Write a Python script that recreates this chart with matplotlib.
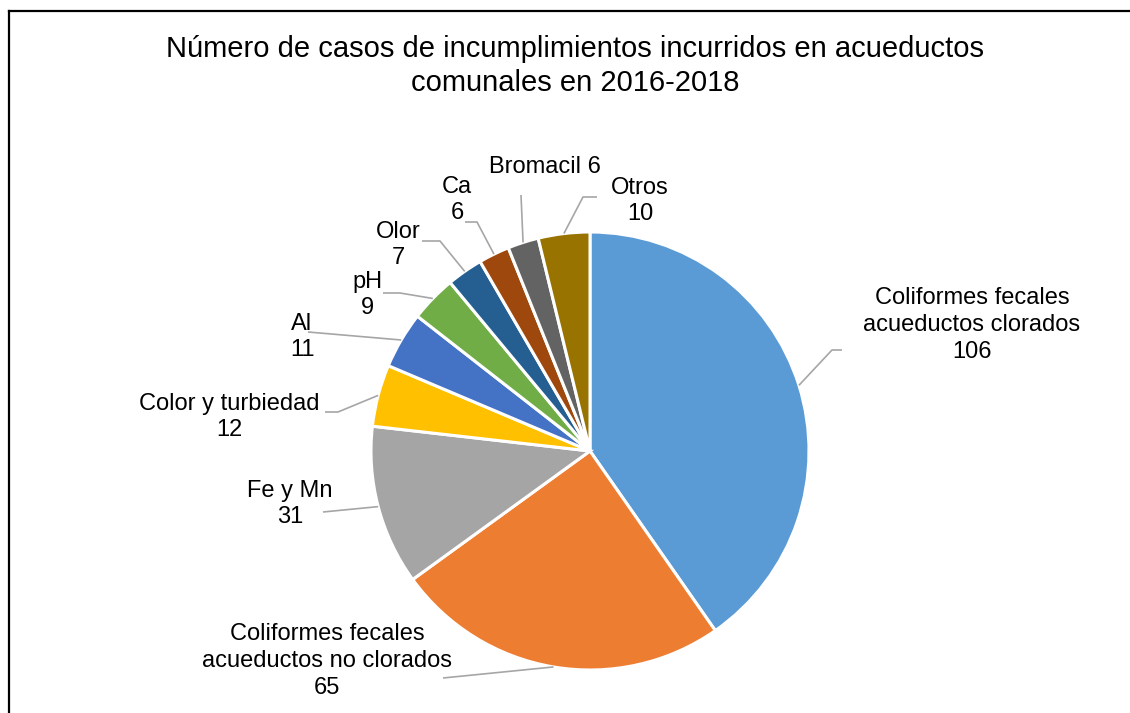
import matplotlib
matplotlib.use('Agg')
import matplotlib.pyplot as plt
import numpy as np

plt.rcParams['font.family'] = ['Liberation Sans', 'DejaVu Sans']

# Data
categories = ['Coliformes fecales\nacueductos clorados',
              'Coliformes fecales\nacueductos no clorados',
              'Fe y Mn', 'Color y turbiedad', 'Al', 'pH', 'Olor', 'Ca',
              'Bromacil', 'Otros']
values = [106, 65, 31, 12, 11, 9, 7, 6, 6, 10]
colors = ['#5B9BD5', '#ED7D31', '#A5A5A5', '#FFC000', '#4472C4',
          '#70AD47', '#255E91', '#9E480E', '#636363', '#997300']
title = 'Número de casos de incumplimientos incurridos en acueductos\ncomunales en 2016-2018'

# Layout (image pixel coords, y down)
W, H = 1130, 713
CX, CY, R = 590, 451, 219
label_sep = ['\n'] * 8 + [' ', '\n']
label_pos = [(972, 325), (327, 661), (290, 504), (229, 417), (302, 337),
             (367, 295), (398, 245), (457, 200), (545, 167), (640, 201)]
leader_pts = [[(832, 350), (842, 350)],
              [(443, 678)],
              [(323, 512)],
              [(338, 412), (325, 412)],
              [(308, 332)],
              [(400, 293), (383, 293)],
              [(440, 241), (422, 241)],
              [(477, 222), (465, 222)],
              [(521, 195)],
              [(583, 197), (597, 197)]]


def fy(y):
    return H - y


fig = plt.figure(figsize=(W / 100, H / 100), dpi=100)
ax = fig.add_axes([0, 0, 1, 1])

wedges, _ = ax.pie(values, colors=colors, startangle=90, counterclock=False,
                   center=(CX, fy(CY)), radius=R,
                   wedgeprops=dict(edgecolor='white', linewidth=2.2))
ax.set_xlim(0, W)
ax.set_ylim(0, H)
ax.set_aspect('equal')
ax.axis('off')

for w, cat, val, sep, (tx, ty), pts in zip(wedges, categories, values,
                                            label_sep, label_pos, leader_pts):
    mid = np.deg2rad((w.theta1 + w.theta2) / 2)
    ax_pt = (CX + R * np.cos(mid), fy(CY) + R * np.sin(mid))
    xs = [ax_pt[0]] + [p[0] for p in pts]
    ys = [ax_pt[1]] + [fy(p[1]) for p in pts]
    ax.plot(xs, ys, color='#A6A6A6', lw=1.2, solid_capstyle='butt')
    ax.text(tx, fy(ty), f'{cat}{sep}{val}', ha='center', va='center',
            fontsize=17, color='#000000', linespacing=1.27)

ax.text(575, fy(66), title, ha='center', va='center', fontsize=21,
        linespacing=1.3)

# frame (left and top edges visible)
ax.plot([8.5, 8.5], [fy(10.5), 0], color='black', lw=1.6, clip_on=False)
ax.plot([8.5, W], [fy(10.5), fy(10.5)], color='black', lw=1.6, clip_on=False)

fig.savefig('out.png', dpi=100)
